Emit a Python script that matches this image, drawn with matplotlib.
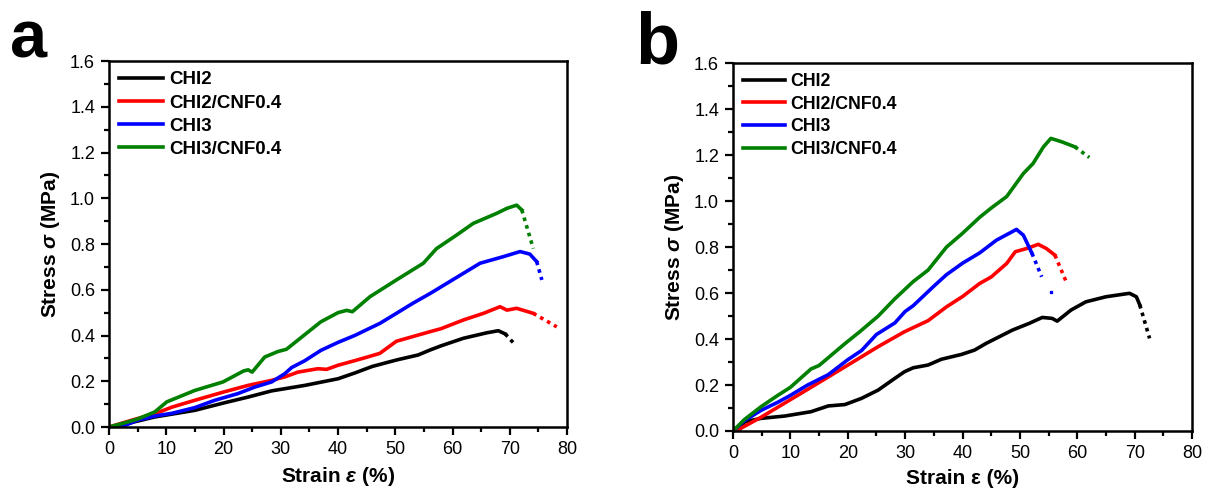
import matplotlib.pyplot as plt
from matplotlib.ticker import MultipleLocator

plt.rcParams['font.family'] = ['Liberation Sans', 'DejaVu Sans']
plt.rcParams['mathtext.fontset'] = 'custom'
plt.rcParams['mathtext.it'] = 'Liberation Sans:italic:bold'
plt.rcParams['mathtext.bf'] = 'Liberation Sans:bold'

labels = ['CHI2', 'CHI2/CNF0.4', 'CHI3', 'CHI3/CNF0.4']
colors = ['black', '#ff0000', '#0000ff', '#008000']

# panel a: solid part, then the dotted tail after failure
a_chi2_x = [1, 4, 8, 15, 20, 24.3, 28.4, 34.2, 40, 42.9, 46, 50.2, 54, 56.1, 58, 61.9, 66, 68, 69.2]
a_chi2_y = [0.0, 0.02, 0.044, 0.073, 0.105, 0.131, 0.158, 0.182, 0.211, 0.236, 0.265, 0.293, 0.315, 0.337, 0.355, 0.388, 0.412, 0.421, 0.407]
a_chi2_tx = [69.2, 70.6]
a_chi2_ty = [0.407, 0.369]

a_c2n_x = [0, 4, 8, 11, 15, 20, 24.3, 28.4, 30.7, 33, 36.5, 38, 40, 42.9, 45, 47.3, 50.2, 53, 56.1, 58, 61.9, 65.4, 68.3, 69.5, 71.2, 74.1]
a_c2n_y = [0.0, 0.03, 0.058, 0.087, 0.117, 0.153, 0.182, 0.204, 0.219, 0.24, 0.255, 0.252, 0.27, 0.29, 0.305, 0.322, 0.375, 0.395, 0.417, 0.43, 0.468, 0.497, 0.526, 0.511, 0.519, 0.497]
a_c2n_tx = [74.1, 78.2]
a_c2n_ty = [0.497, 0.438]

a_chi3_x = [2, 2.8, 5, 8, 11, 15, 18.5, 22.5, 25.5, 28.4, 30.7, 31.9, 34.2, 37, 40, 42.9, 47.3, 50.2, 53, 56.1, 61.9, 64.8, 68.9, 71.8, 73.5, 74.7]
a_chi3_y = [0.0, 0.007, 0.03, 0.048, 0.06, 0.085, 0.117, 0.146, 0.175, 0.197, 0.233, 0.26, 0.29, 0.335, 0.37, 0.40, 0.453, 0.497, 0.54, 0.584, 0.672, 0.716, 0.745, 0.767, 0.756, 0.723]
a_chi3_tx = [74.7, 75.6]
a_chi3_ty = [0.723, 0.643]

a_c3n_x = [0, 3, 5, 8, 10.1, 15, 19.9, 23.5, 24.3, 25, 27.2, 29.5, 31, 33, 37, 40, 41.5, 42.5, 45.6, 50.2, 54.9, 57.2, 60.7, 63.6, 67.7, 69.5, 71.2, 72.1]
a_c3n_y = [0.0, 0.02, 0.035, 0.066, 0.11, 0.16, 0.197, 0.245, 0.25, 0.24, 0.306, 0.33, 0.34, 0.38, 0.46, 0.50, 0.51, 0.504, 0.57, 0.643, 0.716, 0.78, 0.839, 0.89, 0.934, 0.956, 0.97, 0.949]
a_c3n_tx = [72.1, 74.1]
a_c3n_ty = [0.949, 0.78]

# panel b
b_chi2_x = [1, 2, 4.9, 9, 13.6, 16.6, 19.5, 22.4, 25.3, 28.2, 29.9, 31.4, 34, 36.3, 39.8, 42.1, 44.1, 48.7, 51.6, 53.9, 55.6, 56.5, 58.9, 61.5, 65, 69.1, 70.3, 70.9]
b_chi2_y = [0.0, 0.04, 0.055, 0.065, 0.084, 0.109, 0.115, 0.142, 0.178, 0.229, 0.258, 0.275, 0.287, 0.312, 0.333, 0.352, 0.381, 0.439, 0.468, 0.494, 0.49, 0.478, 0.526, 0.562, 0.584, 0.599, 0.584, 0.548]
b_chi2_tx = [70.9, 72.6]
b_chi2_ty = [0.548, 0.403]

b_c2n_x = [0.5, 4.9, 16.6, 25.3, 29.9, 34, 37.2, 40, 43, 45, 47.7, 49.2, 51.2, 53.2, 54.6, 56.1]
b_c2n_y = [0.0, 0.06, 0.235, 0.367, 0.432, 0.48, 0.54, 0.585, 0.642, 0.67, 0.729, 0.78, 0.794, 0.812, 0.794, 0.765]
b_c2n_tx = [56.1, 58.2]
b_c2n_ty = [0.765, 0.642]

b_chi3_x = [0, 2, 4.9, 7.8, 10, 13, 16.6, 20, 22.4, 25, 28.2, 30, 31.4, 35, 37.2, 40, 43, 45.9, 49.4, 50.6, 52.1]
b_chi3_y = [0.0, 0.045, 0.09, 0.125, 0.155, 0.2, 0.245, 0.31, 0.35, 0.42, 0.47, 0.52, 0.545, 0.63, 0.68, 0.73, 0.775, 0.83, 0.877, 0.852, 0.773]
b_chi3_tx = [52.1, 53.8]
b_chi3_ty = [0.773, 0.671]
b_chi3_stray = (55.4, 0.606)

b_c3n_x = [0, 2, 4.9, 7.8, 10, 13.6, 15, 19.5, 22, 25.3, 28.2, 31.4, 34, 37.2, 40, 43, 45, 47.7, 50.6, 52.3, 54.1, 55.4, 57.3, 59.6]
b_c3n_y = [0.0, 0.05, 0.106, 0.155, 0.19, 0.27, 0.285, 0.38, 0.43, 0.50, 0.575, 0.65, 0.70, 0.80, 0.86, 0.93, 0.97, 1.02, 1.12, 1.164, 1.236, 1.273, 1.258, 1.236]
b_c3n_tx = [59.6, 62.1]
b_c3n_ty = [1.236, 1.19]

panel_a = [(a_chi2_x, a_chi2_y, a_chi2_tx, a_chi2_ty),
           (a_c2n_x, a_c2n_y, a_c2n_tx, a_c2n_ty),
           (a_chi3_x, a_chi3_y, a_chi3_tx, a_chi3_ty),
           (a_c3n_x, a_c3n_y, a_c3n_tx, a_c3n_ty)]
panel_b = [(b_chi2_x, b_chi2_y, b_chi2_tx, b_chi2_ty),
           (b_c2n_x, b_c2n_y, b_c2n_tx, b_c2n_ty),
           (b_chi3_x, b_chi3_y, b_chi3_tx, b_chi3_ty),
           (b_c3n_x, b_c3n_y, b_c3n_tx, b_c3n_ty)]

fig = plt.figure(figsize=(12.07, 4.97), dpi=100)
ax_a = fig.add_axes([0.0903, 0.1408, 0.3795, 0.7364])
ax_b = fig.add_axes([0.6073, 0.1328, 0.3803, 0.7400])


def draw(ax, series, xlabel, letter, lx, ly, lsize, leg_fs):
    for (x, y, tx, ty), lab, c in zip(series, labels, colors):
        ax.plot(x, y, color=c, lw=2.6, label=lab, solid_joinstyle='round')
        ax.plot(tx, ty, color=c, lw=2.6, ls=(0, (1, 1.2)))
    ax.set_xlim(0, 80)
    ax.set_ylim(0, 1.6)
    ax.xaxis.set_major_locator(MultipleLocator(10))
    ax.xaxis.set_minor_locator(MultipleLocator(5))
    ax.yaxis.set_major_locator(MultipleLocator(0.2))
    ax.yaxis.set_minor_locator(MultipleLocator(0.1))
    ax.yaxis.set_major_formatter(plt.FormatStrFormatter('%.1f'))
    ax.tick_params(which='both', direction='out', width=1.6, labelsize=13, top=False, right=False)
    ax.tick_params(which='major', length=6, pad=4)
    ax.tick_params(which='minor', length=3.5)
    for s in ax.spines.values():
        s.set_linewidth(1.8)
    ax.set_xlabel(xlabel, fontsize=15, fontweight='bold', labelpad=5)
    ax.set_ylabel(r'Stress $\sigma$ (MPa)', fontsize=15, fontweight='bold', labelpad=6)
    ax.legend(loc='upper left', frameon=False, handlelength=2.35, handletextpad=0.3,
              labelspacing=0.32, borderpad=0.2, borderaxespad=0.35,
              prop={'weight': 'bold', 'size': leg_fs})
    fig.text(lx, ly, letter, fontsize=lsize, fontweight='bold', ha='left', va='baseline')


draw(ax_a, panel_a, r'Strain $\varepsilon$ (%)', 'a', 0.008, 0.885, 48, 13.5)
draw(ax_b, panel_b, 'Strain ε (%)', 'b', 0.526, 0.873, 52, 12.8)
ax_b.plot(*b_chi3_stray, 's', color=colors[2], ms=2)

fig.savefig('out.png', dpi=100)
